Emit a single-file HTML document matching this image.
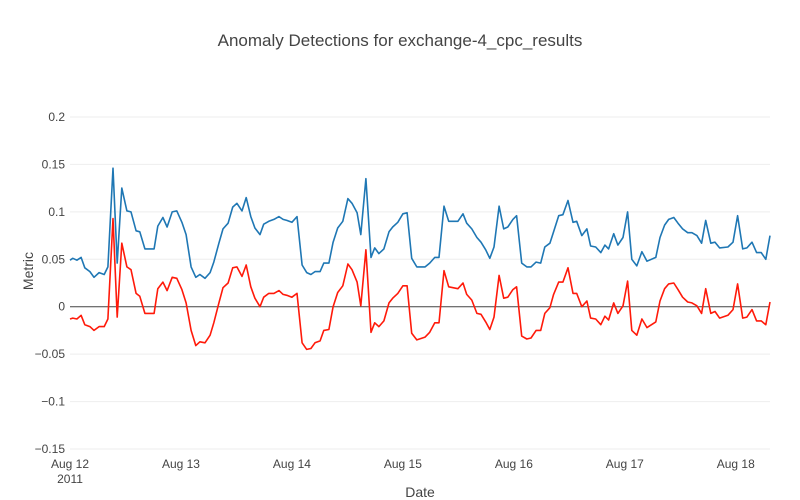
<!DOCTYPE html>
<html><head><meta charset="utf-8"><style>
body{margin:0;background:#fff;}
svg{display:block;font-family:"Liberation Sans",sans-serif;}
</style></head><body>
<svg id="chart" width="800" height="500">
<rect width="800" height="500" fill="#fff"/>
<text x="400" y="46" text-anchor="middle" font-size="17" fill="#444">Anomaly Detections for exchange-4_cpc_results</text>
<g id="grid"></g>
<g id="yticks"></g>
<g id="xticks"></g>
<g id="series"></g>
<text x="33" y="271" text-anchor="middle" font-size="14" fill="#444" transform="rotate(-90 33 271)">Metric</text>
<text x="420" y="497" text-anchor="middle" font-size="14" fill="#444">Date</text>
</svg>
<script>
const hours=[0,0.6,1.5,2.4,3.2,4.3,5.2,6.3,7.4,8.2,9.3,10.2,11.2,12.3,13.2,14.3,15.1,16.2,18.2,19.0,20.1,21.0,22.1,23.1,24.2,25.1,26.2,27.2,28.1,29.2,30.3,31.1,32.2,33.1,34.2,35.2,36.1,37.2,38.1,39.1,40.0,41.1,41.9,43.0,44.1,45.2,46.1,46.9,48.0,49.1,50.2,51.2,52.1,53.0,54.1,54.9,56.0,56.9,57.9,59.0,60.1,61.0,62.1,62.9,64.0,65.1,65.9,66.8,67.9,69.0,69.8,70.9,72.0,72.9,73.9,75.0,76.8,77.8,78.9,79.8,80.9,81.9,83.9,85.0,85.8,86.9,88.0,88.9,89.9,90.8,91.7,92.8,93.8,94.7,95.8,96.6,97.7,98.8,99.7,100.8,101.8,102.7,103.8,104.6,105.7,106.6,107.7,108.8,109.6,110.7,111.8,112.6,113.7,114.8,115.7,116.5,117.6,118.5,119.6,120.6,121.5,122.6,123.7,124.8,126.7,127.6,128.6,129.5,130.6,131.5,132.5,133.6,134.5,135.6,136.6,137.5,138.6,139.5,140.5,142.3,143.4,144.4,145.5,146.4,147.5,148.5,149.5,150.5,151.4];
const metricValues=[0.049,0.051,0.049,0.052,0.041,0.037,0.031,0.036,0.034,0.042,0.146,0.046,0.125,0.101,0.100,0.080,0.079,0.061,0.061,0.085,0.094,0.084,0.100,0.101,0.089,0.076,0.042,0.031,0.034,0.030,0.036,0.047,0.067,0.082,0.088,0.105,0.109,0.101,0.115,0.095,0.083,0.076,0.087,0.090,0.092,0.095,0.092,0.091,0.089,0.095,0.044,0.036,0.034,0.037,0.037,0.046,0.046,0.068,0.083,0.090,0.114,0.109,0.099,0.076,0.135,0.052,0.062,0.056,0.061,0.079,0.084,0.089,0.098,0.099,0.051,0.042,0.042,0.046,0.052,0.052,0.106,0.090,0.090,0.098,0.088,0.082,0.073,0.068,0.060,0.051,0.063,0.106,0.082,0.084,0.092,0.096,0.046,0.042,0.042,0.047,0.046,0.063,0.067,0.079,0.096,0.097,0.112,0.089,0.090,0.075,0.082,0.064,0.063,0.057,0.065,0.061,0.077,0.065,0.073,0.100,0.050,0.043,0.058,0.048,0.052,0.073,0.086,0.092,0.094,0.088,0.082,0.078,0.078,0.075,0.067,0.091,0.067,0.068,0.062,0.063,0.068,0.096,0.061,0.062,0.068,0.057,0.057,0.050,0.075];
const anomalyValues=[-0.013,-0.012,-0.013,-0.009,-0.019,-0.021,-0.025,-0.021,-0.021,-0.013,0.093,-0.011,0.067,0.042,0.039,0.014,0.011,-0.007,-0.007,0.019,0.026,0.017,0.031,0.030,0.018,0.004,-0.025,-0.041,-0.037,-0.038,-0.030,-0.017,0.004,0.020,0.025,0.041,0.042,0.032,0.044,0.021,0.009,0.000,0.010,0.014,0.014,0.017,0.013,0.012,0.010,0.014,-0.038,-0.045,-0.044,-0.038,-0.036,-0.025,-0.024,0.000,0.015,0.022,0.045,0.039,0.026,0.001,0.060,-0.027,-0.017,-0.021,-0.015,0.004,0.009,0.014,0.022,0.022,-0.028,-0.035,-0.032,-0.027,-0.017,-0.017,0.038,0.021,0.019,0.025,0.013,0.007,-0.007,-0.008,-0.016,-0.024,-0.011,0.033,0.009,0.010,0.018,0.021,-0.031,-0.034,-0.033,-0.025,-0.025,-0.007,-0.001,0.013,0.026,0.026,0.041,0.014,0.014,0.000,0.006,-0.012,-0.013,-0.019,-0.010,-0.014,0.004,-0.007,0.001,0.027,-0.025,-0.030,-0.013,-0.022,-0.016,0.006,0.019,0.024,0.025,0.018,0.010,0.005,0.004,0.001,-0.007,0.019,-0.007,-0.005,-0.012,-0.009,-0.003,0.024,-0.012,-0.011,-0.003,-0.015,-0.015,-0.019,0.005];
const yTicks=[0.2,0.15,0.1,0.05,0,-0.05,-0.1,-0.15];
const yTickLabels=["0.2","0.15","0.1","0.05","0","\u22120.05","\u22120.1","\u22120.15"];
const xTickHours=[0,24,48,72,96,120,144];
const xTickLabels=["Aug 12","Aug 13","Aug 14","Aug 15","Aug 16","Aug 17","Aug 18"];

const NS="http://www.w3.org/2000/svg";
const X0=70,X1=770,Y0=117,Y1=449;
const xMin=0,xMax=151.4,yMax=0.2,yMin=-0.15;
function xs(h){return X0+(h-xMin)/(xMax-xMin)*(X1-X0);}
function ys(v){return Y0+(yMax-v)/(yMax-yMin)*(Y1-Y0);}
function mk(tag,attrs,parent){const e=document.createElementNS(NS,tag);for(const k in attrs)e.setAttribute(k,attrs[k]);parent.appendChild(e);return e;}
const grid=document.getElementById('grid'),yt=document.getElementById('yticks'),xt=document.getElementById('xticks'),ser=document.getElementById('series');
yTicks.forEach((v,i)=>{
  const y=ys(v);
  if(v!==0){const l=mk('line',{x1:X0,x2:X1,y1:y,y2:y,stroke:'#eee','stroke-width':1},grid);
  
  }
  const t=mk('text',{x:65,y:y+4,'text-anchor':'end','font-size':12,fill:'#444'},yt);
  t.textContent=yTickLabels[i];
  
  
});
xTickHours.forEach((h,i)=>{
  const t=mk('text',{x:xs(h),y:468,'text-anchor':'middle','font-size':12,fill:'#444'},xt);
  t.textContent=xTickLabels[i];
  
  
});
const yr=mk('text',{x:xs(0),y:483,'text-anchor':'middle','font-size':12,fill:'#444'},xt);
yr.textContent='2011';


const zl=mk('line',{x1:X0,x2:X1,y1:ys(0),y2:ys(0),stroke:'#444','stroke-width':1},grid);


function path(vals,color,name){
  const d=vals.map((v,i)=>(i?'L':'M')+xs(hours[i]).toFixed(1)+','+ys(v).toFixed(1)).join('');
  const p=mk('path',{d:d,fill:'none',stroke:color,'stroke-width':1.6,'stroke-linejoin':'round'},ser);
  
  
}
path(metricValues,'#1f77b4','metric-line');
path(anomalyValues,'#ff1a0a','anomaly-score-line');
</script>
</body></html>
